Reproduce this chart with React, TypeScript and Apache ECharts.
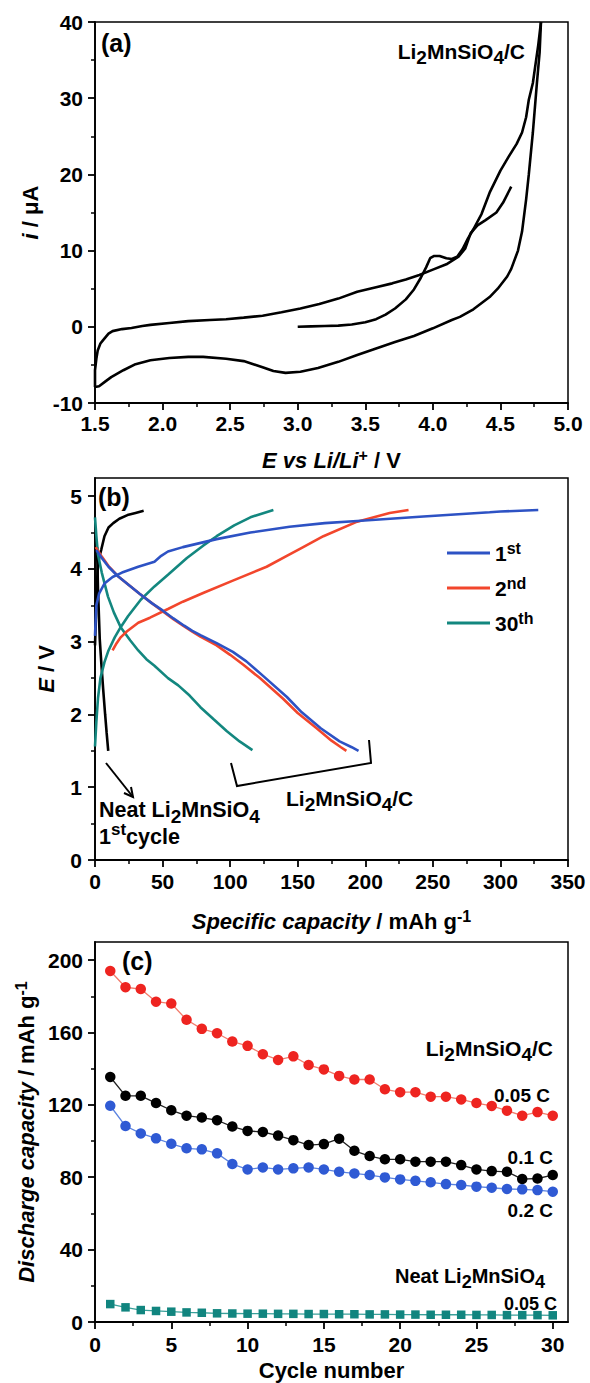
import React, { useEffect, useRef } from 'react';
import * as echarts from 'echarts';

const FONT = '"Liberation Sans", Arial, Helvetica, sans-serif';

// ---------- Panel (a): cyclic voltammogram ----------
const cvScan1 = [
  [3.0, 0], [3.1, 0.05], [3.2, 0.1], [3.3, 0.15], [3.4, 0.3], [3.5, 0.6], [3.58, 1.0], [3.65, 1.6],
  [3.72, 2.4], [3.8, 3.6], [3.86, 4.9], [3.91, 6.4], [3.95, 7.8], [3.98, 9.0], [4.01, 9.3], [4.05, 9.3],
  [4.1, 9.0], [4.14, 8.9], [4.18, 9.2], [4.22, 10.2], [4.26, 11.6], [4.3, 12.8], [4.36, 14.8],
  [4.42, 17.6], [4.5, 20.5], [4.56, 22.3], [4.62, 24.0], [4.66, 25.5], [4.69, 27.5], [4.71, 29.8],
  [4.74, 32], [4.76, 34.5], [4.78, 37], [4.8, 40],
];
const cvReverse = [
  [4.8, 40], [4.79, 36], [4.77, 32], [4.74, 25.5], [4.71, 20], [4.69, 16.7], [4.66, 12.5], [4.63, 10],
  [4.58, 7.6], [4.55, 6.6], [4.48, 5], [4.42, 3.9], [4.3, 2.3], [4.2, 1.3], [4.14, 0.9], [4.0, -0.2],
  [3.86, -1.2], [3.72, -2.0], [3.58, -2.85], [3.44, -3.7], [3.3, -4.6], [3.15, -5.4], [3.02, -5.9],
  [2.91, -6.05], [2.82, -5.8], [2.74, -5.3], [2.6, -4.5], [2.47, -4.2], [2.3, -3.95], [2.19, -3.95],
  [2.05, -4.1], [1.91, -4.4], [1.8, -4.9], [1.71, -5.7], [1.62, -6.6], [1.575, -7.2], [1.53, -7.8], [1.5, -7.9],
];
const cvScan2 = [
  [1.5, -7.9], [1.5, -5.7], [1.51, -4.2], [1.52, -3.1], [1.54, -2.2], [1.56, -1.75], [1.6, -0.9],
  [1.63, -0.57], [1.7, -0.3], [1.77, -0.15], [1.85, 0.1], [1.91, 0.25], [2.05, 0.5], [2.19, 0.75],
  [2.35, 0.9], [2.47, 1.0], [2.6, 1.2], [2.74, 1.45], [2.88, 1.9], [3.02, 2.4], [3.16, 3.0], [3.3, 3.7],
  [3.44, 4.6], [3.58, 5.2], [3.7, 5.7], [3.8, 6.2], [3.9, 6.8], [4.0, 7.5], [4.1, 8.2], [4.19, 9.2],
  [4.24, 10.3], [4.28, 12.3], [4.33, 13.3], [4.39, 14], [4.47, 15], [4.52, 16.3], [4.58, 18.4],
];
const aXTicks = [1.5, 2.0, 2.5, 3.0, 3.5, 4.0, 4.5, 5.0];
const aXMinor = [1.75, 2.25, 2.75, 3.25, 3.75, 4.25, 4.75];
const aYTicks = [-10, 0, 10, 20, 30, 40];
const aYMinor = [-5, 5, 15, 25, 35];

// ---------- Panel (b): charge / discharge ----------
const b1stCharge = [
  [0, 3.08], [0.5, 3.3], [1, 3.5], [3, 3.66], [7, 3.8], [13, 3.89], [20, 3.95], [32, 4.03], [44, 4.1],
  [49, 4.18], [54, 4.24], [65, 4.3], [90, 4.41], [115, 4.5], [144, 4.58], [170, 4.63], [194, 4.66],
  [243, 4.72], [292, 4.78], [300, 4.79], [328, 4.81],
];
const b1stDischarge = [
  [1, 4.26], [5, 4.15], [10, 4.03], [17, 3.9], [25, 3.78], [33, 3.66], [42, 3.53], [50, 3.43],
  [58, 3.32], [66, 3.22], [72, 3.15], [78, 3.09], [90, 2.98], [102, 2.86], [112, 2.73], [125, 2.52],
  [142, 2.24], [153, 2.03], [167, 1.81], [181, 1.63], [190, 1.55], [195, 1.5],
];
const b2ndCharge = [
  [13, 2.88], [16, 2.98], [19, 3.06], [23.5, 3.14], [32, 3.26], [40.7, 3.33], [54, 3.45], [65, 3.55],
  [80, 3.67], [102, 3.84], [127, 4.03], [144, 4.2], [152, 4.28], [169, 4.45], [194, 4.65], [218, 4.77],
  [232, 4.81],
];
const b2ndDischarge = [
  [0.5, 4.3], [5, 4.17], [10, 4.04], [17, 3.9], [25, 3.78], [33, 3.66], [42, 3.53], [50, 3.42],
  [58, 3.31], [66, 3.21], [72, 3.14], [78, 3.07], [90, 2.95], [100, 2.82], [110, 2.68], [122, 2.5],
  [139, 2.22], [150, 2.02], [164, 1.81], [175, 1.64], [182, 1.55], [186, 1.5],
];
const b30thCharge = [
  [0, 1.56], [1, 1.9], [2.2, 2.22], [4, 2.5], [7, 2.72], [10, 2.88], [14.6, 3.06], [19, 3.2],
  [24.4, 3.35], [34, 3.58], [44, 3.76], [54, 3.92], [68, 4.15], [80, 4.32], [90, 4.45], [103, 4.6],
  [115, 4.71], [125, 4.77], [132, 4.81],
];
const b30thDischarge = [
  [0, 4.71], [1, 4.45], [2.2, 4.2], [5, 3.95], [9.6, 3.62], [14, 3.4], [19, 3.2], [26, 3.02], [32, 2.88],
  [38, 2.76], [44, 2.67], [54, 2.5], [61.6, 2.4], [70, 2.26], [78, 2.1], [88, 1.93], [97.6, 1.77],
  [107, 1.63], [116.5, 1.51],
];
const bNeatCharge = [
  [0, 2.95], [0.6, 3.3], [1.2, 3.7], [2, 4.0], [3, 4.15], [4.7, 4.27], [7, 4.45], [10, 4.57],
  [13.5, 4.63], [18, 4.69], [24, 4.74], [30, 4.77], [36, 4.8],
];
const bNeatDischarge = [
  [1.5, 4.3], [2.2, 3.73], [3.5, 3.04], [4.7, 2.7], [6, 2.36], [7.5, 2.0], [8.6, 1.75], [9.8, 1.5],
];
const bXTicks = [0, 50, 100, 150, 200, 250, 300, 350];
const bXMinor = [25, 75, 125, 175, 225, 275, 325];
const bYTicks = [0, 1, 2, 3, 4, 5];
const bYMinor = [0.5, 1.5, 2.5, 3.5, 4.5];
const bLegend = ['1st', '2nd', '30th'];

// ---------- Panel (c): cycling ----------
const cycles = [1, 2, 3, 4, 5, 6, 7, 8, 9, 10, 11, 12, 13, 14, 15, 16, 17, 18, 19, 20, 21, 22, 23, 24, 25, 26, 27, 28, 29, 30];
const capC005 = [194, 185, 184, 177, 176, 167, 162, 159.6, 155, 152.6, 148, 144.8, 146.8, 142, 139.6, 136, 134, 134, 128.6, 127, 127, 124.5, 124.5, 123, 121, 119.4, 116.8, 114, 116, 114];
const capC01 = [135.4, 125, 125, 121, 117, 114, 113, 111.5, 108, 105.6, 105, 103, 100.5, 97.8, 98.3, 101.3, 94.6, 91.7, 89.9, 89.9, 88.6, 88.6, 88.6, 86.7, 84.3, 83.4, 83, 79, 79.3, 81.2];
const capC02 = [119.5, 108.3, 104.2, 101.5, 98.5, 96, 95.4, 93.2, 87.3, 84.3, 85.4, 84.3, 84.9, 85.4, 84.3, 83, 82.1, 81.2, 79.9, 78.8, 78, 77.2, 76.2, 75.7, 74.8, 74.2, 73.5, 73.3, 72.9, 72];
const capNeat = [9.9, 8.1, 6.6, 6.1, 5.7, 5.3, 5.1, 4.8, 4.7, 4.6, 4.6, 4.5, 4.5, 4.4, 4.4, 4.3, 4.3, 4.2, 4.2, 4.1, 4.1, 4.0, 4.0, 4.0, 3.9, 3.9, 3.8, 3.8, 3.8, 3.7];
const cXTicks = [0, 5, 10, 15, 20, 25, 30];
const cXMinor = [2.5, 7.5, 12.5, 17.5, 22.5, 27.5];
const cYTicks = [0, 40, 80, 120, 160, 200];
const cYMinor = [20, 60, 100, 140, 180];

const BLUE = '#2d52c4';
const RED = '#f2462c';
const TEAL = '#13877f';

const TICK_FS = 21;
const TITLE_FS = 22;

const titleRich = {
  n: { fontSize: TITLE_FS, fontWeight: 'bold', fontFamily: FONT, color: '#000', lineHeight: 26, verticalAlign: 'middle' },
  it: { fontSize: TITLE_FS, fontWeight: 'bold', fontStyle: 'italic', fontFamily: FONT, color: '#000', lineHeight: 26, verticalAlign: 'middle' },
  sup: { fontSize: 16, fontWeight: 'bold', fontFamily: FONT, color: '#000', lineHeight: 13, verticalAlign: 'top' },
};

function textRich(fs: number) {
  return {
    n: { fontSize: fs, fontWeight: 'bold', fontFamily: FONT, color: '#000', lineHeight: Math.round(fs * 1.5), verticalAlign: 'middle' },
    sub: { fontSize: Math.round(fs * 0.9), fontWeight: 'bold', fontFamily: FONT, color: '#000', lineHeight: Math.round(fs * 0.9), verticalAlign: 'bottom' },
    sup: { fontSize: Math.round(fs * 0.8), fontWeight: 'bold', fontFamily: FONT, color: '#000', lineHeight: Math.round(fs * 0.7), verticalAlign: 'top' },
  };
}

function txt(x: number, y: number, text: string, fs: number, align: string = 'left') {
  return {
    type: 'text',
    x,
    y,
    silent: true,
    z: 100,
    style: {
      text,
      rich: textRich(fs),
      fontSize: fs,
      fontWeight: 'bold',
      fontFamily: FONT,
      fill: '#000',
      textAlign: align,
      align,
      textVerticalAlign: 'middle',
      verticalAlign: 'middle',
    },
  };
}

function axisPair(
  dim: 'x' | 'y', gridIndex: number, min: number, max: number, majors: number[], minors: number[],
  fmt: (v: number) => string, name: string, nameGap: number, labelMargin: number,
) {
  const common: any = {
    type: 'value', gridIndex, min, max, position: dim === 'x' ? 'bottom' : 'left', offset: 0,
    splitLine: { show: false }, scale: false,
  };
  const main = {
    ...common,
    axisLine: { show: true, onZero: false, lineStyle: { color: '#000', width: 1.8 } },
    axisTick: { show: true, inside: false, length: 7, customValues: majors, lineStyle: { color: '#000', width: 1.8 } },
    minorTick: { show: false },
    axisLabel: {
      show: true, customValues: majors, margin: labelMargin, formatter: fmt, color: '#000',
      fontSize: TICK_FS, fontWeight: 'bold', fontFamily: FONT,
    },
    name, nameLocation: 'middle', nameGap, nameRotate: dim === 'y' ? 90 : 0,
    nameTextStyle: { rich: titleRich, color: '#000' },
  };
  const minor = {
    ...common,
    axisLine: { show: false, onZero: false },
    axisTick: { show: true, inside: false, length: 4, customValues: minors, lineStyle: { color: '#000', width: 1.5 } },
    axisLabel: { show: false },
  };
  return [main, minor];
}

const pairs = (ys: number[]) => cycles.map((c, i) => [c, ys[i]]);

function lineSeries(name: string, data: number[][], color: string, xi: number, width = 2.6) {
  return {
    type: 'line', name, data, xAxisIndex: xi, yAxisIndex: xi, symbol: 'none', showSymbol: false,
    smooth: false, color, itemStyle: { color }, lineStyle: { color, width }, silent: true,
  };
}

function dotSeries(name: string, data: number[][], color: string, lineColor: string, symbol: string, size: number) {
  return {
    type: 'line', name, data, xAxisIndex: 4, yAxisIndex: 4, symbol, symbolSize: size, showSymbol: true,
    itemStyle: { color }, lineStyle: { color: lineColor, width: 1.3 }, silent: true, z: 3,
  };
}

export default function App() {
  const ref = useRef<HTMLDivElement>(null);
  useEffect(() => {
    if (!ref.current) return;
    const chart = echarts.init(ref.current, null, { renderer: 'svg' });
    const f1 = (v: number) => v.toFixed(1);
    const f0 = (v: number) => String(v);
    const [ax, axm] = axisPair('x', 0, 1.5, 5.0, aXTicks, aXMinor, f1, '{it|E vs Li/Li}{sup|+}{n| / V}', 44, 10);
    const [ay, aym] = axisPair('y', 0, -10, 40, aYTicks, aYMinor, f0, '{it|i}{n| / μA}', 42, 12);
    const [bx, bxm] = axisPair('x', 1, 0, 350, bXTicks, bXMinor, f0, '{it|Specific capacity}{n| / mAh g}{sup|-1}', 48, 11);
    const [by, bym] = axisPair('y', 1, 0, 5.25, bYTicks, bYMinor, f0, '{it|E}{n| / V}', 36, 13);
    const [cx, cxm] = axisPair('x', 2, 0, 31, cXTicks, cXMinor, f0, '{n|Cycle number}', 35, 12);
    const [cy, cym] = axisPair('y', 2, 0, 210, cYTicks, cYMinor, f0, '{it|Discharge capacity}{n| / mAh g}{sup|-1}', 48, 12);

    const grid = (top: number, height: number) => ({
      left: 95, width: 473, top, height, show: true, borderColor: '#000', borderWidth: 1.5,
      backgroundColor: 'rgba(0,0,0,0)', containLabel: false,
    });

    const option: any = {
      animation: false,
      backgroundColor: '#ffffff',
      grid: [grid(22, 381), grid(478, 382), grid(942, 380)],
      xAxis: [ax, axm, bx, bxm, cx, cxm],
      yAxis: [ay, aym, by, bym, cy, cym],
      legend: {
        data: bLegend,
        orient: 'vertical',
        left: 442,
        top: 535,
        itemWidth: 43,
        itemHeight: 3,
        itemGap: 11.5,
        icon: 'rect',
        selectedMode: false,
        formatter: (name: string) => {
          const m = name.match(/^(\d+)(\D+)$/);
          return m ? `{n|${m[1]}}{sup|${m[2]}}` : name;
        },
        textStyle: {
          rich: {
            n: { fontSize: 21, fontWeight: 'bold', fontFamily: FONT, color: '#000', lineHeight: 26, verticalAlign: 'middle' },
            sup: { fontSize: 16, fontWeight: 'bold', fontFamily: FONT, color: '#000', lineHeight: 13, verticalAlign: 'top' },
          },
        },
      },
      series: [
        lineSeries('cv1', cvScan1, '#000', 0),
        lineSeries('cv2', cvReverse, '#000', 0),
        lineSeries('cv3', cvScan2, '#000', 0),
        lineSeries('Neat', bNeatCharge, '#000', 2),
        lineSeries('Neat', bNeatDischarge, '#000', 2),
        lineSeries('30th', b30thCharge, TEAL, 2),
        lineSeries('30th', b30thDischarge, TEAL, 2),
        lineSeries('2nd', b2ndCharge, RED, 2),
        lineSeries('2nd', b2ndDischarge, RED, 2),
        lineSeries('1st', b1stCharge, BLUE, 2),
        lineSeries('1st', b1stDischarge, BLUE, 2),
        dotSeries('c005', pairs(capC005), '#ee2420', '#f27b6c', 'circle', 10.5),
        dotSeries('c01', pairs(capC01), '#000000', '#222222', 'circle', 10.5),
        dotSeries('c02', pairs(capC02), '#2f5ad4', '#5b83e0', 'circle', 10.5),
        dotSeries('neat', pairs(capNeat), '#11857f', '#3aa09a', 'rect', 8.5),
      ],
      graphic: [
        txt(101, 43, '{n|(a)}', 25),
        txt(525, 51, '{n|Li}{sub|2}{n|MnSiO}{sub|4}{n|/C}', 21, 'right'),
        txt(98, 497, '{n|(b)}', 25),
        txt(99, 810, '{n|Neat Li}{sub|2}{n|MnSiO}{sub|4}', 21.5),
        txt(99, 837, '{n|1}{sup|st}{n|cycle}', 21.5),
        txt(286, 798, '{n|Li}{sub|2}{n|MnSiO}{sub|4}{n|/C}', 21),
        {
          type: 'polyline', silent: true,
          shape: { points: [[231, 763], [237, 786], [371, 763], [369, 740]] },
          style: { stroke: '#000', lineWidth: 2, fill: null },
        },
        {
          type: 'polyline', silent: true,
          shape: { points: [[106, 763], [133, 797]] },
          style: { stroke: '#000', lineWidth: 2, fill: null },
        },
        {
          type: 'polyline', silent: true,
          shape: { points: [[124, 793], [133, 797], [131, 787]] },
          style: { stroke: '#000', lineWidth: 2, fill: null },
        },
        txt(122, 961, '{n|(c)}', 25),
        txt(553, 1048, '{n|Li}{sub|2}{n|MnSiO}{sub|4}{n|/C}', 21, 'right'),
        txt(550, 1095, '{n|0.05 C}', 19, 'right'),
        txt(553, 1157, '{n|0.1 C}', 19, 'right'),
        txt(553, 1210, '{n|0.2 C}', 19, 'right'),
        txt(545, 1276, '{n|Neat Li}{sub|2}{n|MnSiO}{sub|4}', 20, 'right'),
        txt(557, 1304, '{n|0.05 C}', 18, 'right'),
      ],
    };
    chart.setOption(option);
    return () => chart.dispose();
  }, []);
  return (
    <div
      ref={ref}
      style={{ position: 'absolute', left: 0, top: 0, width: 590, height: 1383, background: '#fff' }}
    />
  );
}
